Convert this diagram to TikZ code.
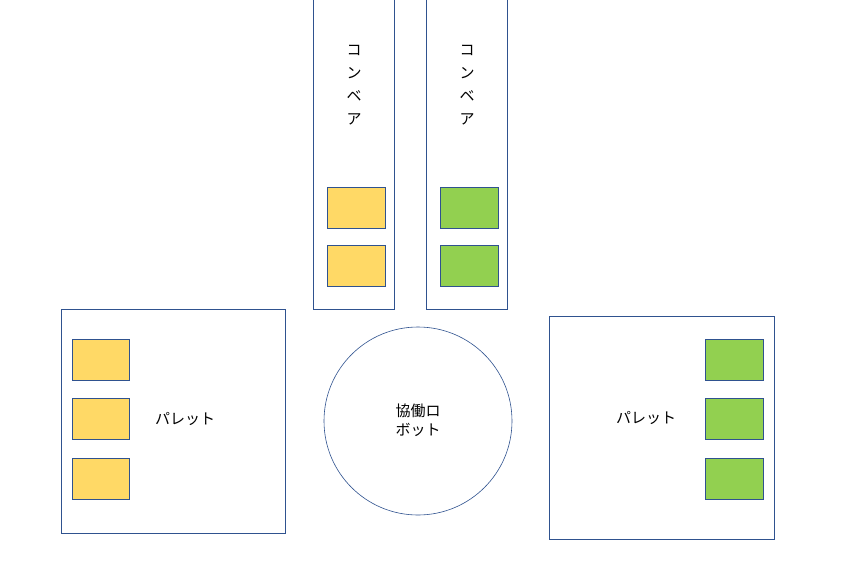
\documentclass[tikz,border=0pt]{standalone}
\usepackage{fontspec}
\newfontfamily\cjk{Noto Sans CJK JP}
\definecolor{ln}{HTML}{2F528F}
\definecolor{ye}{HTML}{FFD966}
\definecolor{gr}{HTML}{92D050}
\tikzset{
  frame/.style={draw=ln,line width=0.6pt,fill=white},
  yb/.style={draw=ln,line width=0.6pt,fill=ye},
  gb/.style={draw=ln,line width=0.6pt,fill=gr},
  lbl/.style={font=\cjk\fontsize{15}{19}\selectfont,inner sep=0pt}
}
\begin{document}
\begin{tikzpicture}[x=1pt,y=-1pt]
\useasboundingbox[fill=white] (0,0) rectangle (841,574);
\draw[frame] (313,-2) -- (313,309) -- (394,309) -- (394,-2);
\draw[frame] (426,-2) -- (426,309) -- (507,309) -- (507,-2);
\node[lbl,align=center] (c1) at (354,85) {コ\\[4pt]ン\\[4pt]ベ\\[4pt]ア};
\node[lbl,align=center] (c2) at (467,85) {コ\\[4pt]ン\\[4pt]ベ\\[4pt]ア};
\draw[yb] (327,187) rectangle (385,228);
\draw[yb] (327,245) rectangle (385,286);
\draw[gb] (440,187) rectangle (498,228);
\draw[gb] (440,245) rectangle (498,286);
\draw[frame] (61,309) rectangle (285,533);
\draw[yb] (72,339) rectangle (129,380);
\draw[yb] (72,398) rectangle (129,439);
\draw[yb] (72,458) rectangle (129,499);
\node[lbl] (p1) at (185,419) {パレット};
\node[frame,circle,minimum size=188pt,inner sep=0pt] (r) at (418,421) {};
\node[lbl,align=center] (rt) at (418,420) {協働ロ\\ボット};
\draw[frame] (549,316) rectangle (774,539);
\draw[gb] (705,339) rectangle (763,380);
\draw[gb] (705,398) rectangle (763,439);
\draw[gb] (705,458) rectangle (763,499);
\node[lbl] (p2) at (646,418) {パレット};
\end{tikzpicture}
\end{document}
